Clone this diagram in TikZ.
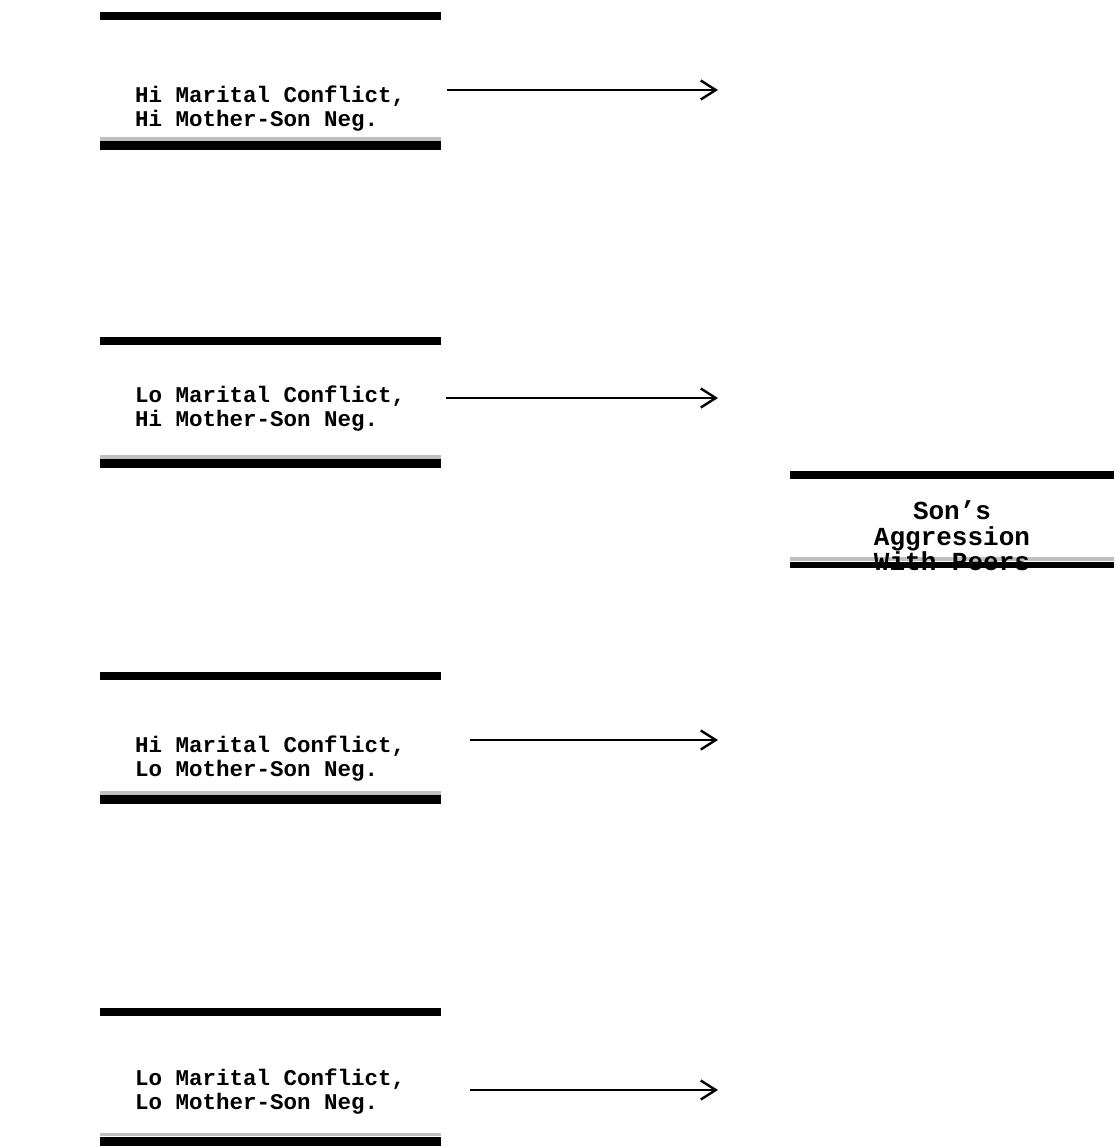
\documentclass[tikz,border=0pt]{standalone}
\usepackage{fontspec}
\setmonofont{Liberation Mono}
\usetikzlibrary{arrows.meta,positioning}

\tikzset{
  condtext/.style={font=\ttfamily\bfseries\fontsize{22.5}{24}\selectfont, align=left, inner sep=0pt, anchor=west},
  outtext/.style={font=\ttfamily\bfseries\fontsize{26}{25.5}\selectfont, align=center, inner sep=0pt},
  topbar/.style={line width=8.5pt},
  botbar/.style={line width=9pt},
  grayband/.style={line width=3.5pt, black!25},
  arr/.style={line width=2.8pt, -{Straight Barb[length=15pt,width=19pt,line width=2.4pt]}}
}

\begin{document}
\begin{tikzpicture}[x=1pt,y=-1pt]
      \useasboundingbox (0,0) rectangle (1114,1146);
      % bars of the four condition boxes
      \foreach \t/\b in {16/145.5, 341/463.5, 676/799.5, 1012/1141}{
        \draw[topbar] (100,\t) -- (441,\t);
        \draw[grayband] (100,\b-6.5) -- (441,\b-6.5);
        \draw[botbar] (100,\b) -- (441,\b);
      }
      % bars of the outcome box
      \draw[topbar] (790,475) -- (1114,475);
      \draw[grayband] (790,559) -- (1114,559);
      \draw[line width=6pt] (790,565) -- (1114,565);
      \begin{scope}[every node/.style={condtext}]
        \node (hihi) at (135,109) {Hi Marital Conflict,\\Hi Mother-Son Neg.};
        \node (lohi) at (135,409) {Lo Marital Conflict,\\Hi Mother-Son Neg.};
        \node (hilo) at (135,759) {Hi Marital Conflict,\\Lo Mother-Son Neg.};
        \node (lolo) at (135,1092) {Lo Marital Conflict,\\Lo Mother-Son Neg.};
      \end{scope}
      \node[outtext] (aggr) at (952,536) {Son’s\\Aggression\\With Peers};
      % arrows
      \coordinate (s1) at (447,90);   \coordinate (t1) at (718,90);
      \coordinate (s2) at (446,398);  \coordinate (t2) at (718,398);
      \coordinate (s3) at (470,740);  \coordinate (t3) at (718,740);
      \coordinate (s4) at (470,1090); \coordinate (t4) at (718,1090);
      \foreach \i in {1,...,4}
        \draw[arr] (s\i) -- (t\i);
\end{tikzpicture}
\end{document}
